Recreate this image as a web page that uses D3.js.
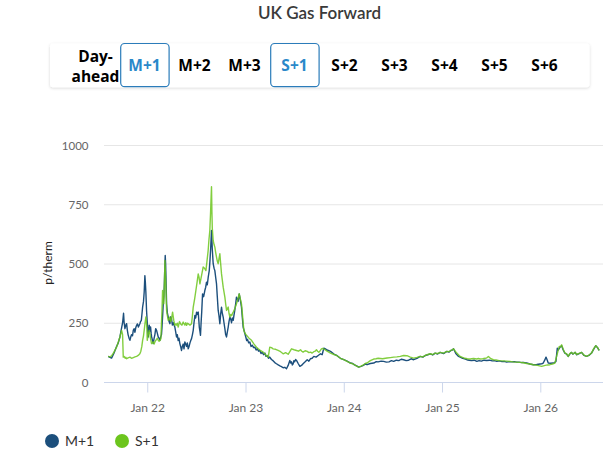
<!DOCTYPE html>
<html>
<head>
<meta charset="utf-8">
<script src="https://cdn.jsdelivr.net/npm/d3@7"></script>
<style>
  body { margin: 0; background: #fff; }
  svg { display: block; }
</style>
</head>
<body>
<svg id="chart" width="612" height="470"></svg>
<script>
// ---------- DATA ----------
const chartTitle = "UK Gas Forward";
const buttonLabels = ["Day-ahead", "M+1", "M+2", "M+3", "S+1", "S+2", "S+3", "S+4", "S+5", "S+6"];
const selectedButtons = ["M+1", "S+1"];
const seriesNames = ["M+1", "S+1"];
const yTicks = [0, 250, 500, 750, 1000];
const xTickYears = [2022, 2023, 2024, 2025, 2026];
const xTickLabels = ["Jan 22", "Jan 23", "Jan 24", "Jan 25", "Jan 26"];
const yLabel = "p/therm";

// [decimal year, p/therm]
const m1Data = [[2021.603,108],[2021.620,104],[2021.637,101],[2021.660,120],[2021.688,150],[2021.705,165],[2021.722,190],[2021.740,230],[2021.749,249],[2021.759,290],[2021.765,250],[2021.773,225],[2021.782,240],[2021.790,246],[2021.797,220],[2021.805,200],[2021.815,185],[2021.824,176],[2021.832,190],[2021.840,200],[2021.850,195],[2021.858,218],[2021.866,225],[2021.875,210],[2021.884,230],[2021.892,239],[2021.900,245],[2021.910,232],[2021.918,240],[2021.925,246],[2021.932,255],[2021.940,260],[2021.947,290],[2021.953,316],[2021.962,340],[2021.969,380],[2021.976,449],[2021.981,420],[2021.986,380],[2021.993,302],[2022.002,240],[2022.010,190],[2022.015,215],[2022.020,240],[2022.027,215],[2022.034,232],[2022.040,205],[2022.045,190],[2022.053,175],[2022.061,162],[2022.070,185],[2022.078,200],[2022.086,225],[2022.095,218],[2022.103,205],[2022.112,190],[2022.120,185],[2022.129,176],[2022.137,190],[2022.145,200],[2022.150,230],[2022.156,274],[2022.163,330],[2022.169,360],[2022.173,400],[2022.178,470],[2022.183,534],[2022.187,500],[2022.190,450],[2022.197,330],[2022.205,290],[2022.214,274],[2022.222,255],[2022.231,246],[2022.239,275],[2022.247,267],[2022.256,240],[2022.265,250],[2022.273,240],[2022.281,232],[2022.290,210],[2022.298,190],[2022.306,200],[2022.315,175],[2022.323,185],[2022.332,162],[2022.340,150],[2022.349,133],[2022.357,150],[2022.366,160],[2022.374,140],[2022.383,169],[2022.391,160],[2022.400,150],[2022.408,165],[2022.417,140],[2022.426,150],[2022.435,165],[2022.443,175],[2022.451,183],[2022.460,200],[2022.468,218],[2022.476,250],[2022.485,281],[2022.493,270],[2022.502,295],[2022.510,285],[2022.519,295],[2022.525,260],[2022.530,230],[2022.536,215],[2022.542,197],[2022.548,250],[2022.555,300],[2022.563,372],[2022.574,360],[2022.586,386],[2022.595,400],[2022.603,421],[2022.611,410],[2022.620,440],[2022.631,470],[2022.638,510],[2022.645,560],[2022.654,639],[2022.658,600],[2022.662,560],[2022.671,499],[2022.680,480],[2022.688,470],[2022.697,440],[2022.705,414],[2022.713,360],[2022.722,302],[2022.730,280],[2022.739,246],[2022.748,290],[2022.756,316],[2022.764,290],[2022.773,274],[2022.781,250],[2022.790,225],[2022.798,200],[2022.807,190],[2022.815,210],[2022.824,232],[2022.832,255],[2022.841,274],[2022.850,265],[2022.858,250],[2022.866,270],[2022.875,260],[2022.882,280],[2022.890,300],[2022.900,330],[2022.908,358],[2022.917,350],[2022.925,340],[2022.936,372],[2022.948,345],[2022.959,316],[2022.968,270],[2022.976,232],[2022.990,210],[2023.003,190],[2023.012,175],[2023.020,180],[2023.032,165],[2023.044,169],[2023.057,150],[2023.070,155],[2023.082,145],[2023.095,147],[2023.108,135],[2023.120,140],[2023.133,130],[2023.146,133],[2023.158,120],[2023.170,125],[2023.184,115],[2023.197,122],[2023.208,108],[2023.220,112],[2023.234,100],[2023.247,105],[2023.264,95],[2023.280,90],[2023.298,82],[2023.315,77],[2023.333,72],[2023.350,68],[2023.366,65],[2023.383,60],[2023.400,62],[2023.417,56],[2023.434,70],[2023.451,91],[2023.460,80],[2023.468,85],[2023.477,72],[2023.485,77],[2023.492,90],[2023.500,85],[2023.510,95],[2023.519,91],[2023.536,78],[2023.553,66],[2023.570,70],[2023.586,77],[2023.607,85],[2023.628,94],[2023.645,88],[2023.660,98],[2023.678,100],[2023.695,108],[2023.718,105],[2023.740,112],[2023.763,119],[2023.780,115],[2023.797,143],[2023.813,140],[2023.830,135],[2023.848,132],[2023.865,129],[2023.900,118],[2023.932,111],[2023.966,100],[2024.000,94],[2024.034,88],[2024.068,80],[2024.090,78],[2024.110,72],[2024.131,68],[2024.152,63],[2024.175,66],[2024.200,70],[2024.218,76],[2024.237,73],[2024.270,78],[2024.305,80],[2024.330,86],[2024.350,85],[2024.380,88],[2024.406,87],[2024.433,84],[2024.460,85],[2024.485,90],[2024.508,87],[2024.535,92],[2024.560,90],[2024.585,96],[2024.609,94],[2024.635,90],[2024.660,92],[2024.685,98],[2024.711,94],[2024.745,100],[2024.778,108],[2024.805,105],[2024.830,112],[2024.855,115],[2024.880,119],[2024.905,114],[2024.930,122],[2024.955,118],[2024.981,125],[2025.015,120],[2025.049,129],[2025.070,126],[2025.090,133],[2025.105,135],[2025.117,140],[2025.140,120],[2025.168,108],[2025.190,104],[2025.210,100],[2025.230,98],[2025.252,94],[2025.276,92],[2025.300,90],[2025.327,92],[2025.354,87],[2025.377,90],[2025.400,88],[2025.428,92],[2025.455,91],[2025.482,92],[2025.510,89],[2025.533,90],[2025.557,87],[2025.584,89],[2025.610,86],[2025.634,87],[2025.658,84],[2025.684,86],[2025.710,85],[2025.735,86],[2025.760,84],[2025.785,84],[2025.810,82],[2025.836,82],[2025.861,80],[2025.895,76],[2025.929,73],[2025.963,74],[2025.997,76],[2026.015,77],[2026.030,80],[2026.045,92],[2026.058,105],[2026.068,95],[2026.081,80],[2026.105,79],[2026.132,80],[2026.146,82],[2026.159,87],[2026.166,115],[2026.173,143],[2026.181,135],[2026.190,140],[2026.203,148],[2026.217,153],[2026.233,135],[2026.250,122],[2026.267,118],[2026.284,108],[2026.300,118],[2026.318,125],[2026.330,118],[2026.340,120],[2026.355,125],[2026.369,115],[2026.395,120],[2026.420,125],[2026.445,112],[2026.470,108],[2026.495,112],[2026.521,122],[2026.545,140],[2026.565,153],[2026.582,145],[2026.599,133]];

const s1Data = [[2021.603,108],[2021.620,106],[2021.637,110],[2021.660,125],[2021.688,147],[2021.705,168],[2021.722,190],[2021.731,205],[2021.739,218],[2021.749,200],[2021.756,105],[2021.765,108],[2021.775,100],[2021.782,104],[2021.790,98],[2021.805,102],[2021.824,105],[2021.840,100],[2021.858,103],[2021.875,106],[2021.892,108],[2021.908,112],[2021.925,119],[2021.935,130],[2021.945,150],[2021.953,176],[2021.962,195],[2021.969,218],[2021.978,250],[2021.986,274],[2021.992,250],[2021.996,230],[2022.000,176],[2022.010,200],[2022.020,218],[2022.028,200],[2022.035,180],[2022.044,162],[2022.052,165],[2022.060,170],[2022.070,160],[2022.078,169],[2022.086,175],[2022.095,180],[2022.103,185],[2022.112,176],[2022.121,172],[2022.130,175],[2022.139,183],[2022.145,250],[2022.150,300],[2022.156,386],[2022.163,350],[2022.169,330],[2022.175,420],[2022.180,513],[2022.185,460],[2022.190,400],[2022.197,302],[2022.205,280],[2022.214,260],[2022.222,265],[2022.231,274],[2022.238,255],[2022.245,260],[2022.252,280],[2022.258,295],[2022.270,260],[2022.281,239],[2022.290,245],[2022.298,240],[2022.306,248],[2022.315,232],[2022.328,255],[2022.340,245],[2022.353,240],[2022.366,253],[2022.375,245],[2022.383,240],[2022.392,250],[2022.400,239],[2022.410,248],[2022.420,245],[2022.435,240],[2022.451,246],[2022.460,280],[2022.468,316],[2022.482,350],[2022.495,386],[2022.507,420],[2022.519,456],[2022.528,440],[2022.536,414],[2022.553,450],[2022.569,485],[2022.583,480],[2022.597,470],[2022.608,510],[2022.620,555],[2022.628,600],[2022.637,639],[2022.645,720],[2022.650,780],[2022.654,824],[2022.658,720],[2022.662,650],[2022.667,620],[2022.671,597],[2022.680,580],[2022.688,569],[2022.697,545],[2022.705,527],[2022.713,510],[2022.722,499],[2022.730,520],[2022.739,541],[2022.747,500],[2022.756,456],[2022.764,430],[2022.773,400],[2022.781,380],[2022.790,358],[2022.798,330],[2022.807,302],[2022.815,310],[2022.824,316],[2022.832,290],[2022.841,274],[2022.850,285],[2022.860,280],[2022.868,290],[2022.875,295],[2022.892,310],[2022.908,330],[2022.922,350],[2022.936,372],[2022.948,350],[2022.959,330],[2022.970,280],[2022.983,218],[2022.996,205],[2023.010,197],[2023.036,185],[2023.061,176],[2023.087,160],[2023.112,147],[2023.130,140],[2023.146,135],[2023.163,130],[2023.180,126],[2023.205,115],[2023.231,105],[2023.239,125],[2023.247,147],[2023.264,145],[2023.281,140],[2023.306,138],[2023.332,133],[2023.357,128],[2023.383,119],[2023.408,124],[2023.434,117],[2023.451,128],[2023.468,140],[2023.494,136],[2023.519,133],[2023.540,130],[2023.560,136],[2023.573,130],[2023.586,126],[2023.607,132],[2023.628,129],[2023.645,124],[2023.662,126],[2023.678,122],[2023.695,128],[2023.709,130],[2023.722,136],[2023.734,130],[2023.746,125],[2023.760,132],[2023.773,140],[2023.785,142],[2023.797,139],[2023.813,135],[2023.830,130],[2023.848,126],[2023.865,122],[2023.900,116],[2023.932,111],[2023.966,100],[2024.000,94],[2024.034,87],[2024.068,80],[2024.090,77],[2024.110,72],[2024.131,67],[2024.152,63],[2024.175,67],[2024.200,72],[2024.218,78],[2024.237,80],[2024.270,90],[2024.305,97],[2024.328,98],[2024.350,100],[2024.395,98],[2024.440,101],[2024.475,103],[2024.508,105],[2024.540,106],[2024.575,108],[2024.610,112],[2024.643,111],[2024.677,105],[2024.711,101],[2024.745,104],[2024.778,108],[2024.805,106],[2024.830,112],[2024.855,116],[2024.880,119],[2024.905,116],[2024.930,122],[2024.955,120],[2024.981,125],[2025.015,122],[2025.049,129],[2025.070,128],[2025.090,133],[2025.105,136],[2025.117,140],[2025.150,122],[2025.184,108],[2025.207,104],[2025.230,100],[2025.258,98],[2025.286,97],[2025.320,99],[2025.354,97],[2025.370,99],[2025.387,97],[2025.414,98],[2025.440,100],[2025.456,102],[2025.472,108],[2025.497,98],[2025.523,94],[2025.550,93],[2025.580,90],[2025.620,89],[2025.658,88],[2025.690,87],[2025.720,85],[2025.757,84],[2025.794,83],[2025.828,81],[2025.861,78],[2025.895,76],[2025.929,73],[2025.971,70],[2026.014,66],[2026.032,68],[2026.050,70],[2026.074,72],[2026.098,73],[2026.124,76],[2026.149,80],[2026.158,95],[2026.166,108],[2026.180,130],[2026.193,150],[2026.205,148],[2026.217,157],[2026.233,138],[2026.250,122],[2026.267,120],[2026.284,108],[2026.300,120],[2026.318,125],[2026.330,119],[2026.340,120],[2026.355,126],[2026.369,116],[2026.395,121],[2026.420,125],[2026.445,113],[2026.470,108],[2026.495,113],[2026.521,122],[2026.545,142],[2026.565,153],[2026.582,146],[2026.599,133]];

// ---------- LAYOUT ----------
const colors = { "M+1": "#1c4f7c", "S+1": "#6cc51d" };
const svg = d3.select("#chart");
const plot = { left: 104, right: 603, top: 145, bottom: 382 };

const x = d3.scaleLinear().domain([2021.56, 2026.638]).range([plot.left, plot.right]);
const y = d3.scaleLinear().domain([0, 1000]).range([plot.bottom, plot.top]);

// shadow filter for button bar
const defs = svg.append("defs");
const f = defs.append("filter").attr("id", "shadow").attr("x", "-5%").attr("y", "-20%").attr("width", "110%").attr("height", "150%");
f.append("feDropShadow").attr("dx", 0).attr("dy", 1).attr("stdDeviation", 1.5).attr("flood-color", "#000").attr("flood-opacity", 0.16);

// title
svg.append("text")
  .attr("x", 319.5).attr("y", 19)
  .attr("text-anchor", "middle")
  .attr("font-family", "Lato, 'Open Sans', sans-serif")
  .attr("font-size", 17).attr("font-weight", 600)
  .attr("fill", "#3a3a3a")
  .text(chartTitle);

// button bar
svg.append("rect")
  .attr("x", 50).attr("y", 43.5).attr("width", 539.5).attr("height", 43.8)
  .attr("rx", 3).attr("fill", "#fff").attr("filter", "url(#shadow)");

const btnX = d3.scalePoint().domain(buttonLabels).range([94.5, 544.5]);
const btnG = svg.append("g")
  .attr("font-family", "'Open Sans', 'Liberation Sans', sans-serif")
  .attr("font-size", 15.5).attr("font-weight", "bold");

buttonLabels.forEach(lbl => {
  const cx = btnX(lbl);
  const sel = selectedButtons.includes(lbl);
  if (sel) {
    btnG.append("rect")
      .attr("x", cx - 23.8).attr("y", 43.5).attr("width", 48.4).attr("height", 43.2)
      .attr("rx", 4).attr("fill", "#fff").attr("stroke", "#2b7cba").attr("stroke-width", 1.2);
  }
  if (lbl === "Day-ahead") {
    btnG.append("text").attr("x", cx + 1).attr("y", 61.5).attr("text-anchor", "middle").attr("fill", "#000").text("Day-");
    btnG.append("text").attr("x", cx + 1).attr("y", 81.5).attr("text-anchor", "middle").attr("fill", "#000").text("ahead");
  } else {
    btnG.append("text").attr("x", cx).attr("y", 70.5).attr("text-anchor", "middle")
      .attr("fill", sel ? "#2a88c9" : "#000").text(lbl);
  }
});

// gridlines
svg.append("g").selectAll("line").data(yTicks.filter(d => d > 0)).join("line")
  .attr("x1", plot.left).attr("x2", plot.right)
  .attr("y1", d => y(d) + 0.5).attr("y2", d => y(d) + 0.5)
  .attr("stroke", "#e6e6e6").attr("stroke-width", 1);

// y axis labels
const yAxis = d3.axisLeft(y).tickValues(yTicks).tickSize(0).tickPadding(0).tickFormat(d3.format("d"));
const yg = svg.append("g").attr("transform", `translate(${plot.left - 15.5},0)`).call(yAxis);
yg.select(".domain").remove();
yg.selectAll("text").attr("font-family", "Lato, sans-serif").attr("font-size", 11.5).attr("fill", "#666").attr("dy", "0.35em");

// y axis title
svg.append("text")
  .attr("transform", `translate(52,263) rotate(-90)`)
  .attr("text-anchor", "middle")
  .attr("font-family", "Lato, sans-serif").attr("font-size", 12).attr("fill", "#222")
  .text(yLabel);

// x axis
const xAxis = d3.axisBottom(x).tickValues(xTickYears).tickSize(10).tickPadding(11)
  .tickFormat((d, i) => xTickLabels[i]);
const xg = svg.append("g").attr("transform", `translate(0,${plot.bottom + 0.5})`).call(xAxis);
xg.select(".domain").attr("stroke", "#ccd6eb").attr("d", `M${plot.left},0H${plot.right}`);
xg.selectAll(".tick line").attr("stroke", "#ccd6eb");
xg.selectAll("text").attr("font-family", "Lato, sans-serif").attr("font-size", 12).attr("fill", "#666");

// lines
const line = d3.line().x(d => x(d[0])).y(d => y(d[1]));
svg.append("path").datum(m1Data).attr("d", line)
  .attr("fill", "none").attr("stroke", colors["M+1"]).attr("stroke-width", 1.4).attr("stroke-linejoin", "round");
svg.append("path").datum(s1Data).attr("d", line)
  .attr("fill", "none").attr("stroke", colors["S+1"]).attr("stroke-width", 1.4).attr("stroke-linejoin", "round").attr("stroke-opacity", 0.85);

// legend
const legX = d3.scaleOrdinal().domain(seriesNames).range([52, 122]);
const lg = svg.append("g");
seriesNames.forEach(n => {
  lg.append("circle").attr("cx", legX(n)).attr("cy", 441).attr("r", 7).attr("fill", colors[n]);
  lg.append("text").attr("x", legX(n) + 13).attr("y", 446)
    .attr("font-family", "Lato, sans-serif").attr("font-size", 14).attr("fill", "#333").text(n);
});
</script>
</body>
</html>
